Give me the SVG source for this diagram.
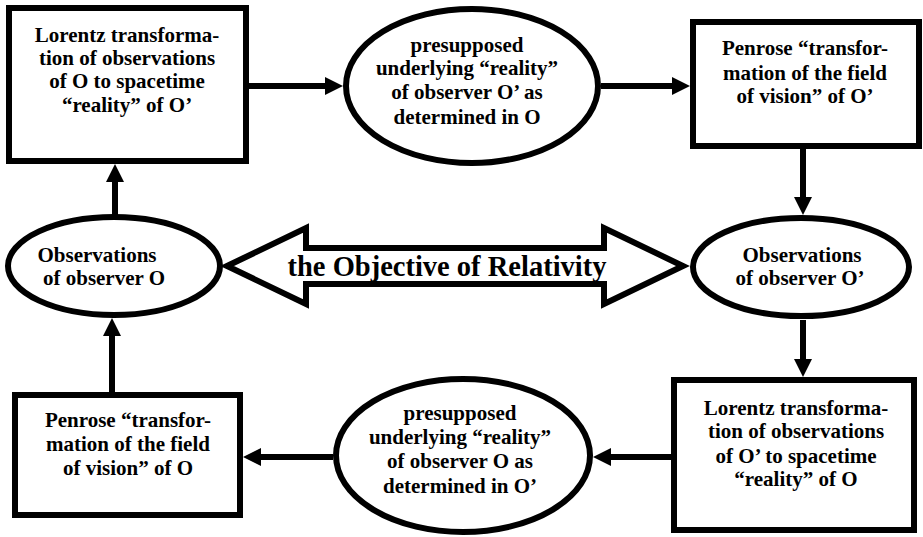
<svg xmlns="http://www.w3.org/2000/svg" width="923" height="537" viewBox="0 0 923 537">
<style>
.shape{fill:#fff;stroke:#000;stroke-width:6}
.t{font-family:'Liberation Serif','Times New Roman','DejaVu Serif',serif;font-weight:bold;font-size:21px;fill:#000;text-anchor:middle}
.title{font-size:28.5px}
.c{stroke:#000;stroke-width:6;fill:none;marker-end:url(#ah)}
</style>
<defs>
<marker id="ah" markerUnits="userSpaceOnUse" markerWidth="18" markerHeight="18" refX="8" refY="9" orient="auto" viewBox="0 0 18 18">
<path d="M0,0 L18,9 L0,18 z" fill="#000"/>
</marker>
</defs>
<rect width="923" height="537" fill="#fff"/>
<g id="connectors">
<line class="c" x1="249" y1="86" x2="333" y2="86"/>
<line class="c" x1="601" y1="86" x2="680" y2="86"/>
<line class="c" x1="803" y1="149" x2="803" y2="205"/>
<line class="c" x1="803" y1="320" x2="803" y2="367"/>
<line class="c" x1="671" y1="457" x2="603" y2="457"/>
<line class="c" x1="333" y1="457" x2="253" y2="457"/>
<line class="c" x1="112" y1="392" x2="112" y2="328"/>
<line class="c" x1="115" y1="215" x2="115" y2="174"/>
</g>
<g font-family="'Liberation Serif', 'DejaVu Serif', serif">
<g id="objective">
<polygon class="shape" points="227,266 306,228 306,248 604,248 604,228 683,266 604,304 604,284 306,284 306,304"/>
<text class="t title" x="447" y="276">the Objective of Relativity</text>
</g>
<g id="lorentz-O">
<rect class="shape" x="9" y="8" width="237" height="153"/>
<text class="t" x="127" y="42">Lorentz transforma-</text>
<text class="t" x="127" y="65">tion of observations</text>
<text class="t" x="127" y="88">of O to spacetime</text>
<text class="t" x="127" y="112">“reality” of O’</text>
</g>
<g id="reality-Oprime">
<ellipse class="shape" cx="472" cy="86" rx="126" ry="77"/>
<text class="t" x="467" y="52">presupposed</text>
<text class="t" x="467" y="75">underlying “reality”</text>
<text class="t" x="467" y="99">of observer O’ as</text>
<text class="t" x="467" y="124">determined in O</text>
</g>
<g id="penrose-Oprime">
<rect class="shape" x="693" y="22" width="226" height="124"/>
<text class="t" x="805" y="55">Penrose “transfor-</text>
<text class="t" x="805" y="80">mation of the field</text>
<text class="t" x="805" y="103">of vision” of O’</text>
</g>
<g id="obs-Oprime">
<ellipse class="shape" cx="801" cy="267" rx="108" ry="49"/>
<text class="t" x="802" y="262">Observations</text>
<text class="t" x="800" y="285">of observer O’</text>
</g>
<g id="obs-O">
<ellipse class="shape" cx="114" cy="266" rx="106" ry="49"/>
<text class="t" x="97" y="262">Observations</text>
<text class="t" x="104" y="285">of observer O</text>
</g>
<g id="lorentz-Oprime">
<rect class="shape" x="674" y="380" width="240" height="150"/>
<text class="t" x="796" y="415">Lorentz transforma-</text>
<text class="t" x="796" y="438">tion of observations</text>
<text class="t" x="796" y="463">of O’ to spacetime</text>
<text class="t" x="796" y="486">“reality” of O</text>
</g>
<g id="reality-O">
<ellipse class="shape" cx="463" cy="455.5" rx="127" ry="76.5"/>
<text class="t" x="460" y="420">presupposed</text>
<text class="t" x="460" y="444">underlying “reality”</text>
<text class="t" x="460" y="468">of observer O as</text>
<text class="t" x="460" y="493">determined in O’</text>
</g>
<g id="penrose-O">
<rect class="shape" x="15" y="395" width="225" height="120"/>
<text class="t" x="128" y="427">Penrose “transfor-</text>
<text class="t" x="128" y="451">mation of the field</text>
<text class="t" x="128" y="475">of vision” of O</text>
</g>
</g>
</svg>
